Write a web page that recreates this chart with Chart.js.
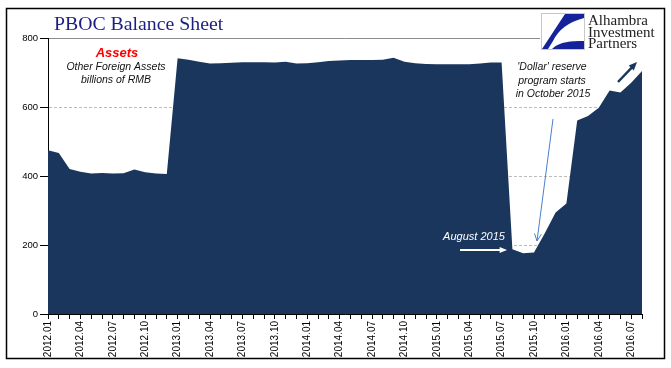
<!DOCTYPE html>
<html>
<head>
<meta charset="utf-8">
<script src="https://cdn.jsdelivr.net/npm/chart.js@4.4.0/dist/chart.umd.min.js"></script>
<style>
  html, body { margin: 0; padding: 0; background: #fff; }
  #wrap { width: 671px; height: 368px; }
</style>
</head>
<body>
<div id="wrap"><canvas id="c1" width="671" height="368"></canvas></div>
<script>
// months 2012.01 .. 2016.08
var years = ['2012', '2013', '2014', '2015', '2016'];
var months = [];
for (var y = 0; y < years.length; y++) {
  for (var m = 1; m <= 12; m++) {
    if (years[y] == '2016' && m > 8) break;
    months.push(years[y] + '.' + (m < 10 ? '0' + m : m));
  }
}

// Other Foreign Assets, billions of RMB
var assets2012 = [475, 467, 420, 412, 407, 409, 407, 408, 419, 411, 407, 406];
var assets2013 = [741, 737, 731, 726, 727, 728, 730, 730, 730, 729, 731, 726];
var assets2014 = [727, 730, 733, 735, 736, 736, 736, 737, 743, 731, 727, 725];
var assets2015 = [724, 724, 724, 724, 726, 729, 729, 188, 176, 178, 234, 294];
var assets2016 = [320, 561, 574, 598, 648, 642, 670, 704];
var assets = assets2012.concat(assets2013, assets2014, assets2015, assets2016);

var yTicks = [0, 200, 400, 600, 800];

var navy = '#1a365d';

function arrow(ctx, x1, y1, x2, y2, color, width, head, open) {
  var a = Math.atan2(y2 - y1, x2 - x1);
  ctx.save();
  ctx.strokeStyle = color;
  ctx.fillStyle = color;
  ctx.lineWidth = width;
  ctx.beginPath();
  if (open) {
    ctx.moveTo(x1, y1);
    ctx.lineTo(x2, y2);
    ctx.stroke();
    ctx.beginPath();
    ctx.moveTo(x2 - head * Math.cos(a - 0.45), y2 - head * Math.sin(a - 0.45));
    ctx.lineTo(x2, y2);
    ctx.lineTo(x2 - head * Math.cos(a + 0.45), y2 - head * Math.sin(a + 0.45));
    ctx.stroke();
  } else {
    ctx.moveTo(x1, y1);
    ctx.lineTo(x2 - head * 0.7 * Math.cos(a), y2 - head * 0.7 * Math.sin(a));
    ctx.stroke();
    ctx.beginPath();
    ctx.moveTo(x2, y2);
    ctx.lineTo(x2 - head * Math.cos(a - 0.4), y2 - head * Math.sin(a - 0.4));
    ctx.lineTo(x2 - head * Math.cos(a + 0.4), y2 - head * Math.sin(a + 0.4));
    ctx.closePath();
    ctx.fill();
  }
  ctx.restore();
}

var decor = {
  id: 'decor',
  afterDraw: function(chart) {
    var ctx = chart.ctx;
    ctx.save();
    // title
    ctx.fillStyle = '#1a1f80';
    ctx.font = '19.8px "Liberation Serif"';
    ctx.textAlign = 'left';
    ctx.textBaseline = 'alphabetic';
    ctx.fillText('PBOC Balance Sheet', 54, 30);

    // logo
    ctx.fillStyle = '#fff';
    ctx.fillRect(540, 10, 122, 46);
    ctx.strokeStyle = '#c8c8c8';
    ctx.lineWidth = 1;
    ctx.strokeRect(541.5, 13.5, 43, 36);
    ctx.fillStyle = '#14239a';
    ctx.beginPath();
    ctx.moveTo(542, 49);
    ctx.lineTo(565, 14);
    ctx.lineTo(584, 14);
    ctx.lineTo(584, 18);
    ctx.quadraticCurveTo(561, 24, 553, 41);
    ctx.lineTo(548, 49);
    ctx.closePath();
    ctx.fill();
    ctx.beginPath();
    ctx.moveTo(552, 49);
    ctx.quadraticCurveTo(560, 40, 584, 41);
    ctx.lineTo(584, 49);
    ctx.closePath();
    ctx.fill();
    ctx.fillStyle = '#222';
    ctx.font = '15px "Liberation Serif"';
    ctx.fillText('Alhambra', 588, 25);
    ctx.fillText('Investment', 588, 36.5);
    ctx.fillText('Partners', 588, 47.5);

    // Assets note
    ctx.textAlign = 'center';
    ctx.fillStyle = '#ff0000';
    ctx.font = 'italic bold 13px "Liberation Sans"';
    ctx.fillText('Assets', 117, 57);
    ctx.fillStyle = '#111';
    ctx.font = 'italic 10.5px "Liberation Sans"';
    ctx.fillText('Other Foreign Assets', 116, 70);
    ctx.fillText('billions of RMB', 116, 83);

    // Dollar note
    ctx.fillText("'Dollar' reserve", 552, 70);
    ctx.fillText('program starts', 552, 83.5);
    ctx.fillText('in October 2015', 553, 97);
    arrow(ctx, 553, 119, 537, 241, '#4a7fd0', 1, 8, true);

    // August 2015
    ctx.fillStyle = '#fff';
    ctx.font = 'italic 11px "Liberation Sans"';
    ctx.fillText('August 2015', 474, 240);
    arrow(ctx, 460, 250, 507, 250, '#fff', 2, 8, false);

    // top right arrow
    arrow(ctx, 618, 82, 637, 62, navy, 2.5, 9, false);

    // frame
    ctx.strokeStyle = '#000';
    ctx.lineWidth = 1.5;
    ctx.strokeRect(6.5, 8.5, 658, 350);
    ctx.restore();
  }
};

var ctx = document.getElementById('c1').getContext('2d');
var chart1 = new Chart(ctx, {
  type: 'line',
  data: {
    labels: months,
    datasets: [{
      label: 'Other Foreign Assets',
      data: assets,
      fill: 'origin',
      backgroundColor: navy,
      borderColor: navy,
      borderWidth: 0,
      pointRadius: 0,
      tension: 0
    }]
  },
  options: {
    responsive: false,
    animation: false,
    layout: { padding: { left: 0, right: 29, top: 38, bottom: 0 } },
    plugins: {
      legend: { display: false },
      title: { display: false },
      tooltip: { enabled: false }
    },
    scales: {
      x: {
        type: 'category',
        offset: false,
        afterFit: function(s) { s.height = 54; },
        grid: { display: true, drawOnChartArea: false, drawTicks: true, tickLength: 5, color: '#000', tickColor: '#000' },
        border: { display: true, color: '#000', width: 1 },
        ticks: {
          autoSkip: false,
          maxRotation: 90,
          minRotation: 90,
          padding: 2,
          color: '#000',
          font: { family: 'Liberation Sans', size: 10 },
          callback: function(v, i) { return i % 3 === 0 ? months[i] : ''; }
        }
      },
      y: {
        min: 0,
        max: 800,
        afterFit: function(s) { s.width = 48; },
        afterBuildTicks: function(s) { s.ticks = yTicks.map(function(v) { return { value: v }; }); },
        grid: {
          color: function(c) { return c.tick && c.tick.value === 800 ? '#8c8c8c' : '#bcbcbc'; },
          lineWidth: 1,
          tickLength: 8,
          tickColor: '#000'
        },
        border: {
          display: true,
          color: '#000',
          width: 1,
          dash: function(c) { return c.tick && c.tick.value === 800 ? [] : [3, 2]; }
        },
        ticks: {
          padding: 2,
          color: '#000',
          font: { family: 'Liberation Sans', size: 9.5 }
        }
      }
    }
  },
  plugins: [decor]
});
</script>
</body>
</html>
